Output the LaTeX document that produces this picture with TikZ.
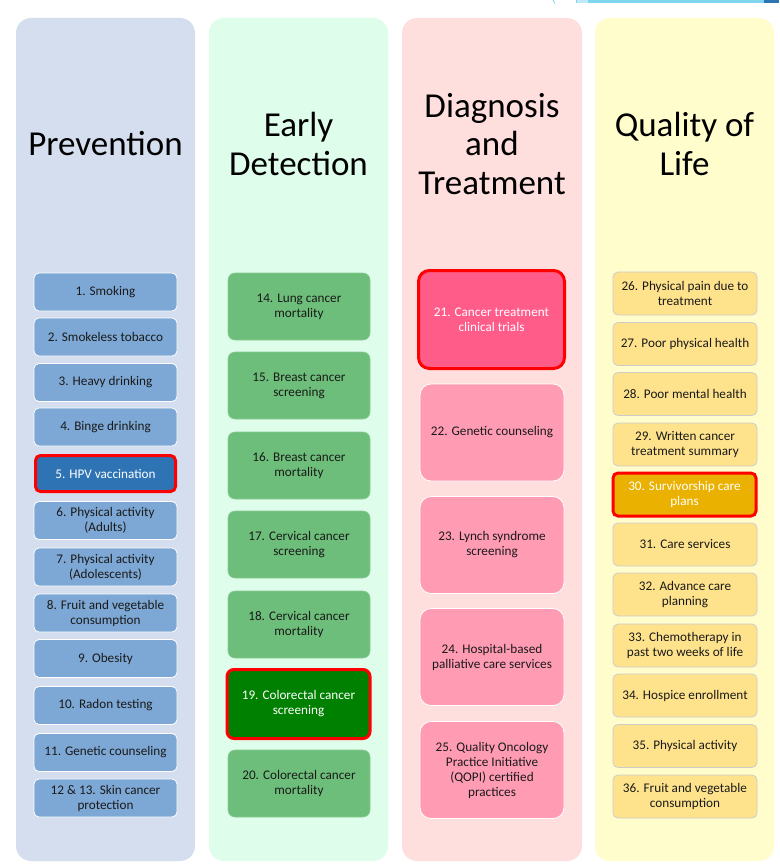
\documentclass[tikz,border=0pt]{standalone}
\usepackage{fontspec}
\setmainfont{Carlito}
\definecolor{bgA}{HTML}{D4DEEF}
\definecolor{bgB}{HTML}{DEFDEA}
\definecolor{bgC}{HTML}{FFDEDE}
\definecolor{bgD}{HTML}{FFFDCC}
\definecolor{boxA}{HTML}{7DA8D5}
\definecolor{boxAh}{HTML}{2E74B5}
\definecolor{boxB}{HTML}{6DBE7A}
\definecolor{boxBh}{HTML}{008000}
\definecolor{boxC}{HTML}{FF9CB4}
\definecolor{boxCh}{HTML}{FF5C8A}
\definecolor{boxD}{HTML}{FFE38C}
\definecolor{boxDh}{HTML}{EBB100}
\definecolor{txt}{HTML}{1A1A1A}
\definecolor{stripL}{HTML}{7FD4EE}
\definecolor{stripD}{HTML}{2E75B6}
\tikzset{
  panel/.style={rounded corners=15pt, draw=none},
  header/.style={font=\fontsize{35}{38.5}\selectfont, align=center, text=black},
  item/.style={rounded corners=5pt, align=center, text=txt, inner sep=1pt,
    font=\fontsize{13.2}{15}\selectfont},
  itemA/.style={item, fill=boxA, draw=white, line width=0.8pt, minimum width=143pt, minimum height=38pt},
  itemB/.style={item, fill=boxB, draw=boxB!80!white, line width=0.6pt, minimum width=142pt, minimum height=67pt, rounded corners=7pt},
  itemC/.style={item, fill=boxC, draw=white, line width=0.8pt, minimum width=144pt, minimum height=97pt, rounded corners=11pt},
  itemD/.style={item, fill=boxD, draw=black!20, line width=0.8pt, minimum width=144pt, minimum height=43pt},
  hot/.style={draw=red, line width=3pt, text=white},
}
\begin{document}
\begin{tikzpicture}[x=1pt,y=-1pt]
\useasboundingbox (0,0) rectangle (779,867);
\fill[white] (0,0) rectangle (779,867);
% top strip
\fill[stripL] (576,0) rectangle (764,3.5);
\fill[stripL!50!white] (577,0) rectangle (588,3.5);
\fill[stripD] (764,0) rectangle (779,3.5);
\draw[stripL, line width=0.8pt] (553,0) -- (555,3.5);
% panels
\fill[panel, bgA] (16,18) rectangle (195,861);
\fill[panel, bgB] (209,18) rectangle (388,861);
\fill[panel, bgC] (402,18) rectangle (582,861);
\fill[panel, bgD] (595,18) rectangle (774,861);
% headers
\node[header] (hA) at (105.5,144) {Prevention};
\node[header] (hB) at (298.5,144) {Early\\Detection};
\node[header] (hC) at (492,144) {Diagnosis\\and\\Treatment};
\node[header] (hD) at (684.5,144) {Quality of\\Life};
% column A
\node[itemA] (a1) at (105.5,292) {1. Smoking};
\node[itemA] (a2) at (105.5,337) {2. Smokeless tobacco};
\node[itemA] (a3) at (105.5,382.5) {3. Heavy drinking};
\node[itemA] (a4) at (105.5,427) {4. Binge drinking};
\node[itemA, hot, fill=boxAh, minimum width=140pt, minimum height=36pt] (a5) at (105.5,473.5) {5. HPV vaccination};
\node[itemA] (a6) at (105.5,520.5) {6. Physical activity\\(Adults)};
\node[itemA] (a7) at (105.5,567) {7. Physical activity\\(Adolescents)};
\node[itemA] (a8) at (105.5,613) {8. Fruit and vegetable\\consumption};
\node[itemA] (a9) at (105.5,658.5) {9. Obesity};
\node[itemA] (a10) at (105.5,705.5) {10. Radon testing};
\node[itemA] (a11) at (105.5,752.5) {11. Genetic counseling};
\node[itemA] (a12) at (105.5,798) {12 \& 13. Skin cancer\\protection};
% column B
\node[itemB] (b14) at (299,306.5) {14. Lung cancer\\mortality};
\node[itemB] (b15) at (299,385.5) {15. Breast cancer\\screening};
\node[itemB] (b16) at (299,465.5) {16. Breast cancer\\mortality};
\node[itemB] (b17) at (299,544.5) {17. Cervical cancer\\screening};
\node[itemB] (b18) at (299,624.5) {18. Cervical cancer\\mortality};
\node[itemB, hot, fill=boxBh, minimum width=143pt, minimum height=69pt] (b19) at (298.5,704) {19. Colorectal cancer\\screening};
\node[itemB] (b20) at (299,783.5) {20. Colorectal cancer\\mortality};
% column C
\node[itemC, hot, fill=boxCh, minimum width=146pt, minimum height=98pt] (c21) at (491.5,319.5) {21. Cancer treatment\\clinical trials};
\node[itemC] (c22) at (492,432.5) {22. Genetic counseling};
\node[itemC] (c23) at (492,545) {23. Lynch syndrome\\screening};
\node[itemC] (c24) at (492,657) {24. Hospital-based\\palliative care services};
\node[itemC] (c25) at (492,770) {25. Quality Oncology\\Practice Initiative\\(QOPI) certified\\practices};
% column D
\node[itemD] (d26) at (685,293.5) {26. Physical pain due to\\treatment};
\node[itemD] (d27) at (685,344) {27. Poor physical health};
\node[itemD] (d28) at (685,394) {28. Poor mental health};
\node[itemD] (d29) at (685,444.5) {29. Written cancer\\treatment summary};
\node[itemD, hot, fill=boxDh, minimum width=143pt, minimum height=43pt] (d30) at (684.5,494.5) {30. Survivorship care\\plans};
\node[itemD] (d31) at (685,544.5) {31. Care services};
\node[itemD] (d32) at (685,594.5) {32. Advance care\\planning};
\node[itemD] (d33) at (685,645.5) {33. Chemotherapy in\\past two weeks of life};
\node[itemD] (d34) at (685,695.5) {34. Hospice enrollment};
\node[itemD] (d35) at (685,746) {35. Physical activity};
\node[itemD] (d36) at (685,796.5) {36. Fruit and vegetable\\consumption};
\end{tikzpicture}
\end{document}
